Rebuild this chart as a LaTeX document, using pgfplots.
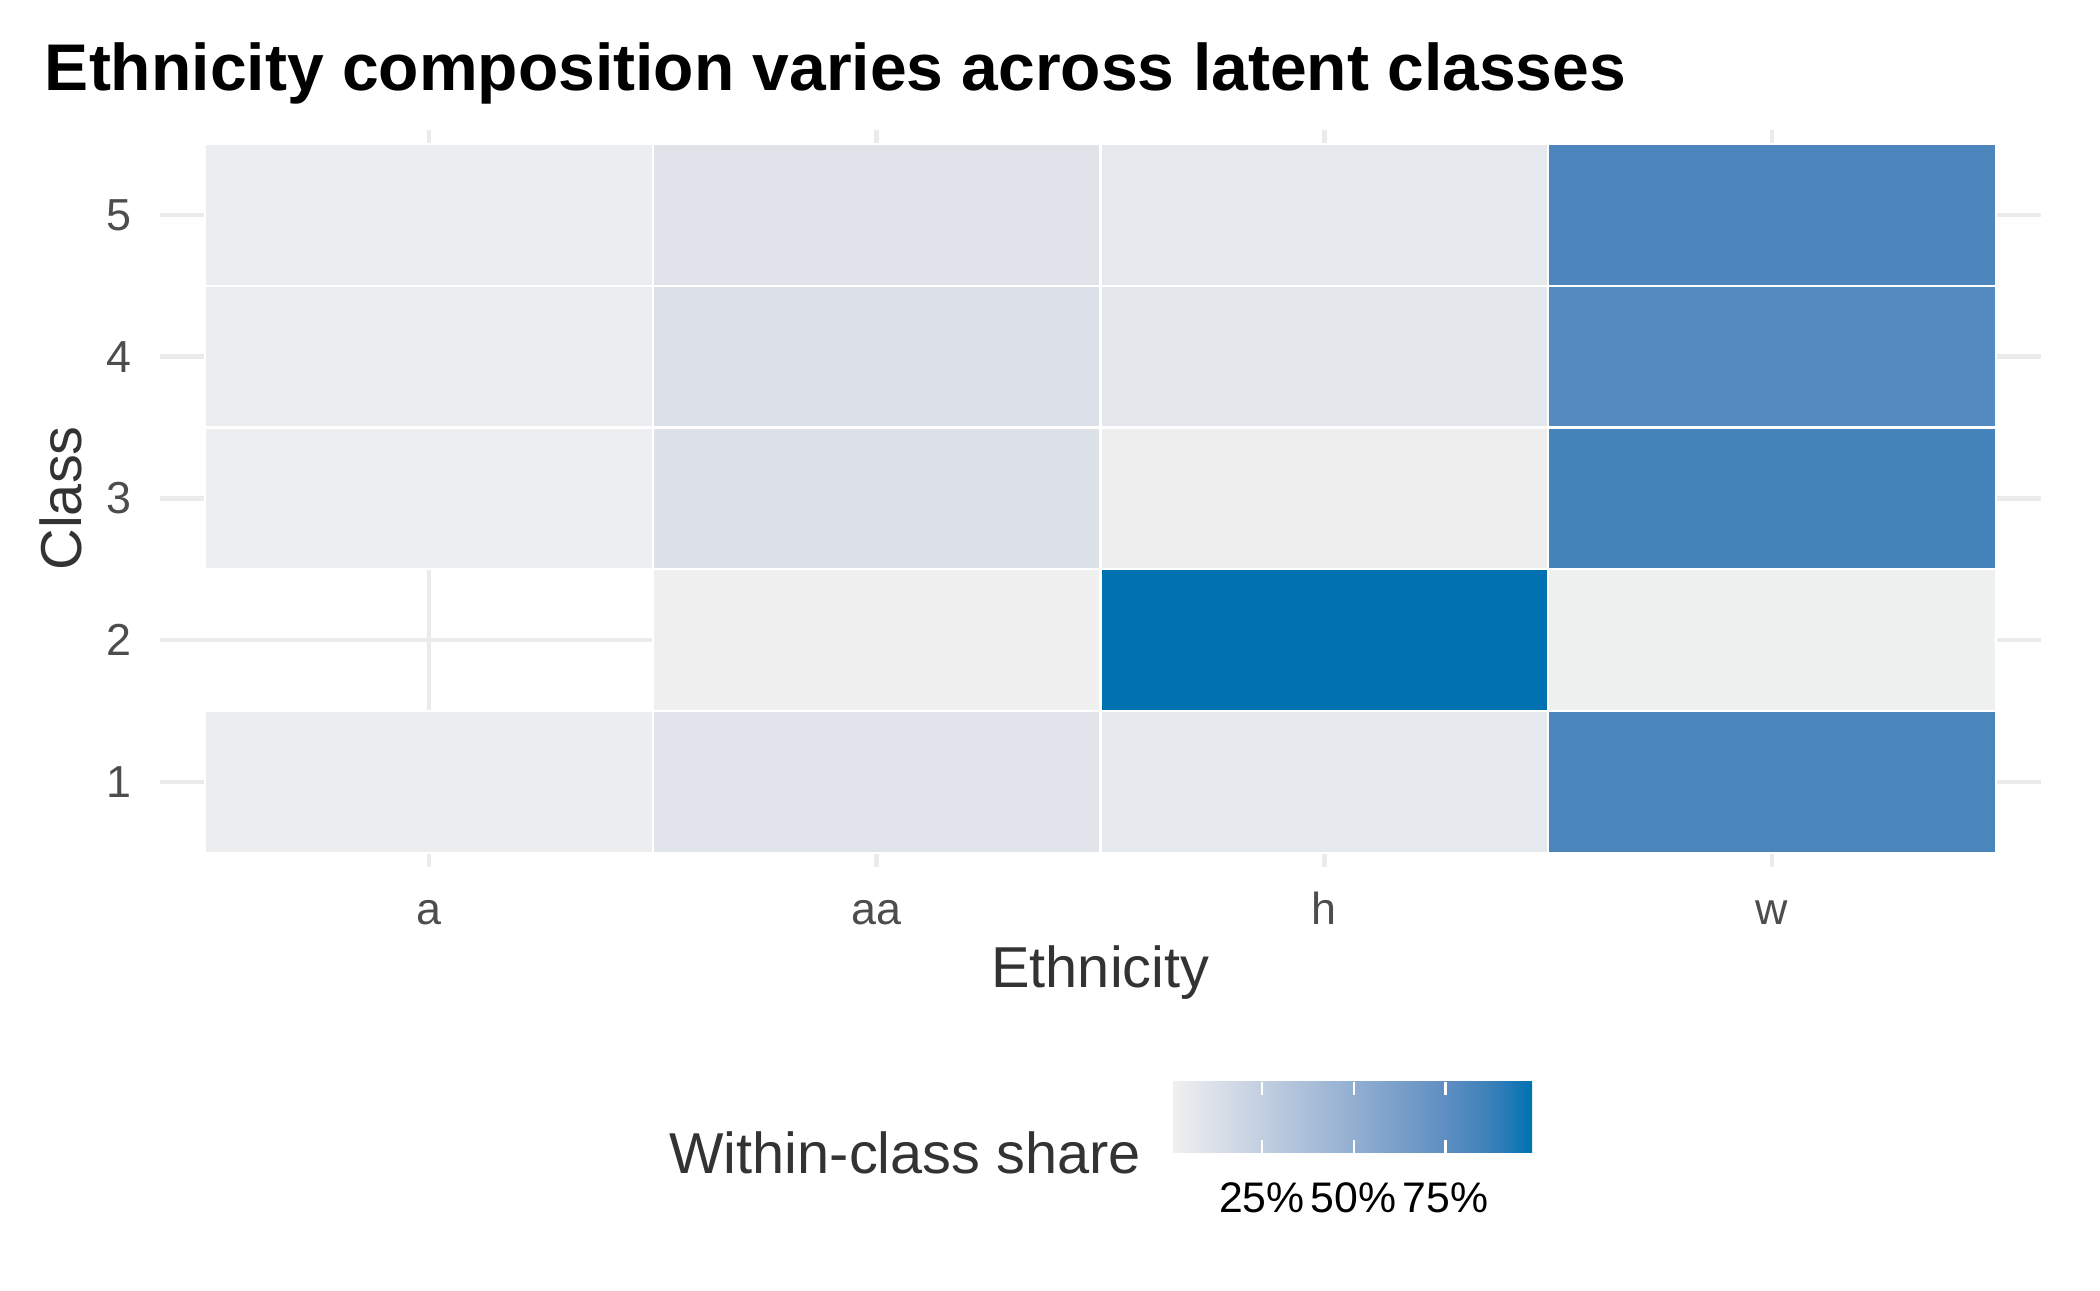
\documentclass[border=0pt]{standalone}
\usepackage{fontspec}
\setmainfont{Liberation Sans}
\usepackage{pgfplots}
\pgfplotsset{compat=1.18}
\definecolor{tickgrey}{HTML}{4D4D4D}
\definecolor{titlegrey}{HTML}{333333}
\definecolor{gridgrey}{HTML}{EBEBEB}
\pgfplotsset{colormap={share}{rgb255(0)=(240,240,240) rgb255(1)=(217,223,232) rgb255(2)=(194,207,225) rgb255(4)=(147,175,209) rgb255(6)=(96,144,194) rgb255(7)=(64,129,186) rgb255(8)=(0,114,178)}}
\begin{document}
\begin{tikzpicture}
\useasboundingbox (0,0) rectangle (504bp,-309.6bp);
\node[anchor=base west, inner sep=0pt, font=\fontsize{15.9}{18}\selectfont\bfseries] at (10.6bp,-21.6bp) {Ethnicity composition varies across latent classes};
\begin{axis}[
 at={(38.45bp,-208.06bp)}, anchor=south west,
 scale only axis, width=451.3bp, height=176.9bp,
 xmin=0.4, xmax=4.6, ymin=0.4, ymax=5.6,
 xtick={1,2,3,4}, xticklabels={a,aa,h,w},
 ytick={1,2,3,4,5}, yticklabels={1,2,3,4,5},
 grid=major, major grid style={draw=gridgrey, line width=1.07bp},
 axis line style={draw=none},
 major tick length=0pt, tick align=inside, ticklabel shift=0pt,
 xticklabel style={anchor=base, inner sep=0pt, yshift=-13.8bp, font=\fontsize{10.8}{12}\selectfont, text=tickgrey},
 yticklabel style={anchor=east, inner sep=0pt, xshift=-6.8bp, font=\fontsize{10.8}{12}\selectfont, text=tickgrey},
 xlabel={Ethnicity}, ylabel={Class},
 xlabel style={at={(axis description cs:0.5,-0.1634)}, anchor=base, inner sep=0pt, font=\fontsize{13.9}{16}\selectfont, text=titlegrey},
 ylabel style={at={(axis description cs:-0.0417,0.5)}, anchor=base, inner sep=0pt, font=\fontsize{13.9}{16}\selectfont, text=titlegrey},
 colormap name=share, point meta min=0.5, point meta max=98.6,
]
\addplot[patch, patch type=rectangle, shader=faceted, faceted color=white, line width=0.55bp, point meta=explicit]
 table[x=x, y=y, meta=c] {
x y c
0.5 0.5 2.5
1.5 0.5 2.5
1.5 1.5 2.5
0.5 1.5 2.5
0.5 2.5 2.2
1.5 2.5 2.2
1.5 3.5 2.2
0.5 3.5 2.2
0.5 3.5 2.8
1.5 3.5 2.8
1.5 4.5 2.8
0.5 4.5 2.8
0.5 4.5 2.6
1.5 4.5 2.6
1.5 5.5 2.6
0.5 5.5 2.6
1.5 0.5 8.5
2.5 0.5 8.5
2.5 1.5 8.5
1.5 1.5 8.5
1.5 1.5 0.6
2.5 1.5 0.6
2.5 2.5 0.6
1.5 2.5 0.6
1.5 2.5 10.5
2.5 2.5 10.5
2.5 3.5 10.5
1.5 3.5 10.5
1.5 3.5 11.0
2.5 3.5 11.0
2.5 4.5 11.0
1.5 4.5 11.0
1.5 4.5 9.0
2.5 4.5 9.0
2.5 5.5 9.0
1.5 5.5 9.0
2.5 0.5 6.5
3.5 0.5 6.5
3.5 1.5 6.5
2.5 1.5 6.5
2.5 1.5 98.6
3.5 1.5 98.6
3.5 2.5 98.6
2.5 2.5 98.6
2.5 2.5 1.8
3.5 2.5 1.8
3.5 3.5 1.8
2.5 3.5 1.8
2.5 3.5 7.0
3.5 3.5 7.0
3.5 4.5 7.0
2.5 4.5 7.0
2.5 4.5 6.5
3.5 4.5 6.5
3.5 5.5 6.5
2.5 5.5 6.5
3.5 0.5 82.5
4.5 0.5 82.5
4.5 1.5 82.5
3.5 1.5 82.5
3.5 1.5 0.8
4.5 1.5 0.8
4.5 2.5 0.8
3.5 2.5 0.8
3.5 2.5 84.3
4.5 2.5 84.3
4.5 3.5 84.3
3.5 3.5 84.3
3.5 3.5 79.2
4.5 3.5 79.2
4.5 4.5 79.2
3.5 4.5 79.2
3.5 4.5 81.9
4.5 4.5 81.9
4.5 5.5 81.9
3.5 5.5 81.9
};
\end{axis}
\node[anchor=base east, inner sep=0pt, font=\fontsize{13.9}{16}\selectfont, text=titlegrey] at (274.0bp,-281.6bp) {Within-class share};
\pgfplotscolorbardrawstandalone[
 colormap name=share, point meta min=0.5, point meta max=98.6,
 colorbar horizontal, colorbar/width=17.1bp,
 colorbar style={at={(281.3bp,-268.2bp)}, anchor=south west, width=86.4bp, height=17.1bp, scale only axis,
  xtick={25,50,75}, xticklabels={25\%,50\%,75\%},
  xtick pos=both, xticklabel pos=lower, tick align=inside, major tick length=3.1bp,
  xtick style={draw=white, line width=0.6bp}, axis line style={draw=none},
  ticklabel shift=0pt,
  xticklabel style={anchor=base, inner sep=0pt, yshift=-14.4bp, font=\fontsize{10.3}{12}\selectfont, text=black}}]
\end{tikzpicture}
\end{document}
